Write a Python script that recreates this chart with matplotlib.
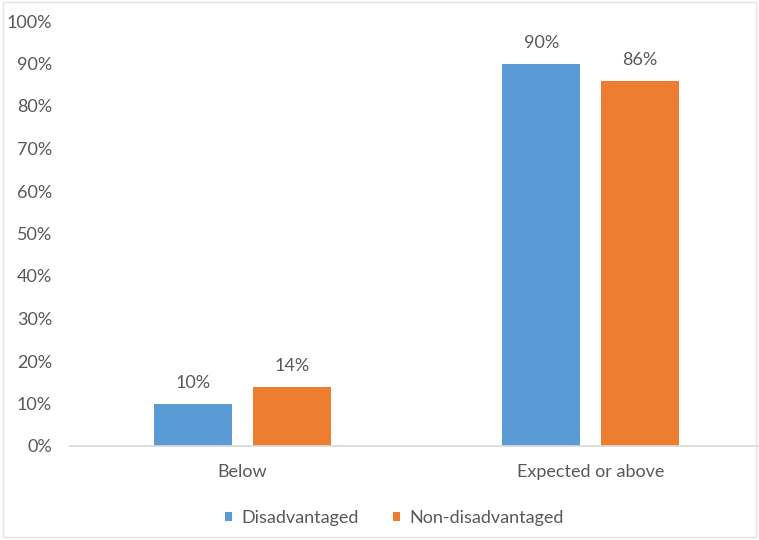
import matplotlib
matplotlib.use("Agg")
import matplotlib.pyplot as plt
from matplotlib.patches import Rectangle
from matplotlib.ticker import FuncFormatter, MultipleLocator

categories = ["Below", "Expected or above"]
series_names = ["Disadvantaged", "Non-disadvantaged"]
disadvantaged = [10, 90]
non_disadvantaged = [14, 86]
colors = ["#5B9BD5", "#ED7D31"]

plt.rcParams["font.family"] = ["Lato", "DejaVu Sans"]
text_color = "#595959"
fs = 13

fig = plt.figure(figsize=(7.59, 5.40), dpi=100)
ax = fig.add_axes([70 / 759, 94 / 540, 689 / 759, 425 / 540])

width = 0.224
offset = 0.142
x = list(range(len(categories)))
for vals, name, col, sign in zip([disadvantaged, non_disadvantaged], series_names, colors, [-1, 1]):
    pos = [xi + sign * offset for xi in x]
    bars = ax.bar(pos, vals, width=width, color=col, label=name)
    for b, v in zip(bars, vals):
        ax.annotate(f"{v}%", (b.get_x() + b.get_width() / 2, v),
                    xytext=(0, 9), textcoords="offset points",
                    ha="center", va="bottom", fontsize=fs, color=text_color)

ax.set_xlim(-0.4957, 1.484)
ax.set_ylim(0, 100)
ax.yaxis.set_major_locator(MultipleLocator(10))
ax.yaxis.set_major_formatter(FuncFormatter(lambda v, p: f"{int(v)}%"))
ax.set_xticks(x)
ax.set_xticklabels(categories)
ax.tick_params(axis="both", length=0, colors=text_color, labelsize=fs)
ax.tick_params(axis="y", pad=13)
ax.tick_params(axis="x", pad=13)
for side in ["top", "right", "left"]:
    ax.spines[side].set_visible(False)
ax.spines["bottom"].set_color("#D9D9D9")
ax.spines["bottom"].set_linewidth(1.2)

leg = fig.legend(loc="center", bbox_to_anchor=(394 / 759, 22 / 540), ncol=2, frameon=False,
                 fontsize=fs, handlelength=0.4, handleheight=0.4, handletextpad=0.5,
                 columnspacing=1.9)
for t in leg.get_texts():
    t.set_color(text_color)

fig.patches.append(Rectangle((0.004, 0.005), 0.992, 0.992, transform=fig.transFigure,
                             fill=False, edgecolor="#E3E3E3", linewidth=1))

fig.savefig("out.png", dpi=100)
